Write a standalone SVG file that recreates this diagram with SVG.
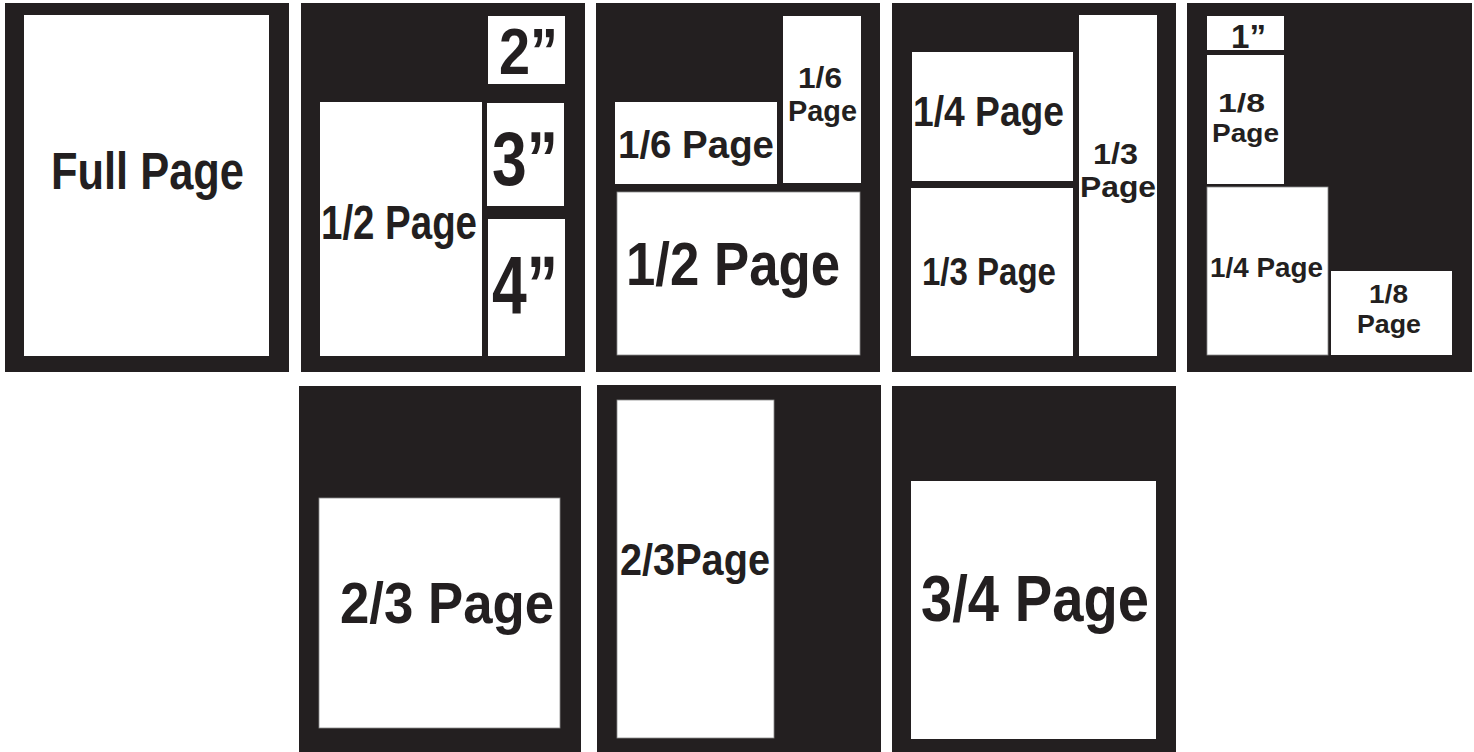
<svg xmlns="http://www.w3.org/2000/svg" width="1474" height="752" viewBox="0 0 1474 752">
<style>
.bg{fill:#231f20}
.w{fill:#ffffff}
.wg{fill:#ffffff;stroke:#8a8a8a;stroke-width:0.8}
text{font-family:"Liberation Sans",Arial,sans-serif;font-weight:bold;fill:#231f20}
</style>
<rect x="0" y="0" width="1474" height="752" fill="#ffffff"/>
<g id="panel-full">
<rect class="bg" x="5" y="3" width="284" height="369"/>
<rect class="w" x="24" y="15" width="245" height="341"/>
<text x="51" y="189" font-size="51" textLength="193" lengthAdjust="spacingAndGlyphs">Full Page</text>
</g>
<g id="panel-half">
<rect class="bg" x="301" y="3" width="284" height="369"/>
<rect class="w" x="488" y="16" width="77" height="68"/>
<rect class="w" x="320" y="102" width="162" height="254"/>
<rect class="w" x="487" y="103" width="77" height="103"/>
<rect class="w" x="488" y="219" width="77" height="137"/>
<text x="499" y="74" font-size="65" textLength="59" lengthAdjust="spacingAndGlyphs">2”</text>
<text x="492" y="185" font-size="76" textLength="66" lengthAdjust="spacingAndGlyphs">3”</text>
<text x="492" y="313" font-size="82" textLength="66" lengthAdjust="spacingAndGlyphs">4”</text>
<text x="321" y="239" font-size="48" textLength="156" lengthAdjust="spacingAndGlyphs">1/2 Page</text>
</g>
<g id="panel-sixth">
<rect class="bg" x="596" y="3" width="284" height="369"/>
<rect class="w" x="615" y="102" width="162" height="82"/>
<rect class="w" x="783" y="16" width="78" height="167"/>
<rect class="wg" x="617" y="192" width="243" height="163"/>
<text x="618" y="158" font-size="39" textLength="156" lengthAdjust="spacingAndGlyphs">1/6 Page</text>
<text x="798" y="88" font-size="29" textLength="44" lengthAdjust="spacingAndGlyphs">1/6</text>
<text x="788" y="121" font-size="29" textLength="69" lengthAdjust="spacingAndGlyphs">Page</text>
<text x="626" y="285" font-size="62" textLength="214" lengthAdjust="spacingAndGlyphs">1/2 Page</text>
</g>
<g id="panel-third">
<rect class="bg" x="892" y="3" width="284" height="369"/>
<rect class="w" x="912" y="52" width="161" height="129"/>
<rect class="w" x="911" y="188" width="162" height="168"/>
<rect class="w" x="1079" y="15" width="78" height="341"/>
<text x="913" y="126" font-size="43" textLength="151" lengthAdjust="spacingAndGlyphs">1/4 Page</text>
<text x="922" y="285" font-size="39" textLength="134" lengthAdjust="spacingAndGlyphs">1/3 Page</text>
<text x="1093" y="164" font-size="29" textLength="45" lengthAdjust="spacingAndGlyphs">1/3</text>
<text x="1080" y="197" font-size="29" textLength="76" lengthAdjust="spacingAndGlyphs">Page</text>
</g>
<g id="panel-eighth">
<rect class="bg" x="1187" y="3" width="285" height="369"/>
<rect class="w" x="1207" y="16" width="77" height="34"/>
<rect class="w" x="1207" y="55" width="77" height="129"/>
<rect class="wg" x="1207" y="187" width="121" height="168"/>
<rect class="w" x="1331" y="271" width="121" height="84"/>
<text x="1231" y="48" font-size="34" textLength="35" lengthAdjust="spacingAndGlyphs">1”</text>
<text x="1218" y="112" font-size="26" textLength="47" lengthAdjust="spacingAndGlyphs">1/8</text>
<text x="1212" y="142" font-size="26" textLength="67" lengthAdjust="spacingAndGlyphs">Page</text>
<text x="1210" y="277" font-size="28" textLength="113" lengthAdjust="spacingAndGlyphs">1/4 Page</text>
<text x="1369" y="303" font-size="26" textLength="39" lengthAdjust="spacingAndGlyphs">1/8</text>
<text x="1357" y="333" font-size="26" textLength="64" lengthAdjust="spacingAndGlyphs">Page</text>
</g>
<g id="panel-two-thirds-h">
<rect class="bg" x="299" y="386" width="282" height="366"/>
<rect class="wg" x="319" y="498" width="241" height="230"/>
<text x="340" y="623" font-size="57" textLength="214" lengthAdjust="spacingAndGlyphs">2/3 Page</text>
</g>
<g id="panel-two-thirds-v">
<rect class="bg" x="597" y="385" width="284" height="367"/>
<rect class="wg" x="617" y="400" width="157" height="338"/>
<text x="620" y="575" font-size="44" textLength="150" lengthAdjust="spacingAndGlyphs">2/3Page</text>
</g>
<g id="panel-three-quarters">
<rect class="bg" x="892" y="386" width="284" height="366"/>
<rect class="w" x="911" y="481" width="245" height="258"/>
<text x="921" y="621" font-size="65" textLength="228" lengthAdjust="spacingAndGlyphs">3/4 Page</text>
</g>
<g id="connectors"></g>
</svg>
